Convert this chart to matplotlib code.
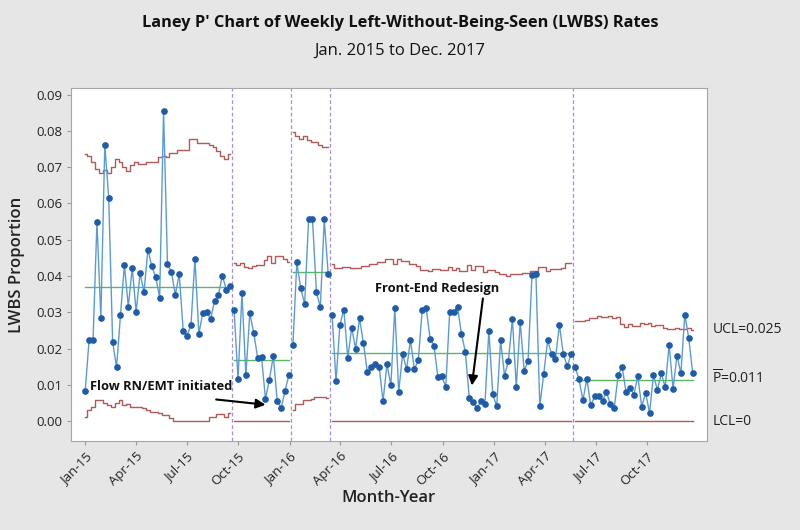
import matplotlib
matplotlib.use('Agg')
import matplotlib.pyplot as plt
import matplotlib.dates as mdates
import matplotlib.transforms as mtransforms
import pandas as pd

plt.rcParams['font.family'] = ['Open Sans', 'DejaVu Sans']
plt.rcParams['mathtext.fontset'] = 'custom'
plt.rcParams['mathtext.rm'] = 'Open Sans'

# weekly LWBS proportion, split by phase
phase1 = [0.0083, 0.0225, 0.0223, 0.0549, 0.0284, 0.0761, 0.0616, 0.0219, 0.0149, 0.0292,
          0.0430, 0.0316, 0.0423, 0.0301, 0.0408, 0.0356, 0.0473, 0.0427, 0.0397, 0.0341,
          0.0855, 0.0432, 0.0411, 0.0349, 0.0406, 0.0250, 0.0236, 0.0266, 0.0448, 0.0241,
          0.0298, 0.0302, 0.0282, 0.0331, 0.0349, 0.0401, 0.0363, 0.0372]
phase2 = [0.0306, 0.0116, 0.0353, 0.0127, 0.0298, 0.0244, 0.0175, 0.0176, 0.0062, 0.0115,
          0.0180, 0.0055, 0.0037, 0.0084, 0.0129]
phase3 = [0.0209, 0.0438, 0.0366, 0.0323, 0.0556, 0.0556, 0.0355, 0.0315, 0.0556, 0.0406]
phase4 = [0.0294, 0.0111, 0.0266, 0.0308, 0.0175, 0.0257, 0.0200, 0.0284, 0.0215, 0.0136,
          0.0149, 0.0157, 0.0151, 0.0055, 0.0157, 0.0099, 0.0311, 0.0082, 0.0186, 0.0143,
          0.0224, 0.0143, 0.0169, 0.0308, 0.0313, 0.0228, 0.0208, 0.0122, 0.0125, 0.0094,
          0.0300, 0.0300, 0.0316, 0.0241, 0.0192, 0.0065, 0.0054, 0.0037, 0.0056, 0.0047,
          0.0250, 0.0074, 0.0042, 0.0223, 0.0126, 0.0167, 0.0283, 0.0094, 0.0274, 0.0140,
          0.0166, 0.0402, 0.0407, 0.0043, 0.0130, 0.0223, 0.0185, 0.0173, 0.0266, 0.0185,
          0.0152, 0.0185]
phase5 = [0.0150, 0.0116, 0.0058, 0.0117, 0.0044, 0.0069, 0.0069, 0.0056, 0.0081, 0.0047,
          0.0038, 0.0127, 0.0151, 0.0080, 0.0093, 0.0073, 0.0125, 0.0040, 0.0079, 0.0023,
          0.0127, 0.0087, 0.0132, 0.0094, 0.0211, 0.0089, 0.0181, 0.0132, 0.0294, 0.0230,
          0.0134]

centers = [0.0371, 0.0169, 0.0411, 0.0189, 0.0114]

ucl1 = [0.0736, 0.0730, 0.0713, 0.0695, 0.0683, 0.0693, 0.0683, 0.0700, 0.0722, 0.0713,
        0.0700, 0.0690, 0.0705, 0.0713, 0.0710, 0.0708, 0.0713, 0.0713, 0.0713, 0.0727,
        0.0731, 0.0727, 0.0739, 0.0739, 0.0748, 0.0748, 0.0748, 0.0778, 0.0778, 0.0767,
        0.0767, 0.0767, 0.0760, 0.0755, 0.0745, 0.0730, 0.0722, 0.0736]
ucl2 = [0.0437, 0.0431, 0.0435, 0.0426, 0.0421, 0.0428, 0.0431, 0.0431, 0.0444, 0.0455,
        0.0435, 0.0455, 0.0455, 0.0447, 0.0440]
ucl3 = [0.0798, 0.0787, 0.0778, 0.0785, 0.0775, 0.0768, 0.0770, 0.0760, 0.0756, 0.0756]
ucl4 = [0.0432, 0.0421, 0.0421, 0.0424, 0.0424, 0.0423, 0.0423, 0.0423, 0.0428, 0.0428,
        0.0432, 0.0432, 0.0440, 0.0440, 0.0447, 0.0447, 0.0434, 0.0448, 0.0441, 0.0441,
        0.0434, 0.0434, 0.0427, 0.0418, 0.0418, 0.0415, 0.0420, 0.0420, 0.0418, 0.0418,
        0.0424, 0.0418, 0.0421, 0.0415, 0.0415, 0.0431, 0.0418, 0.0429, 0.0429, 0.0410,
        0.0418, 0.0418, 0.0411, 0.0406, 0.0406, 0.0400, 0.0406, 0.0406, 0.0406, 0.0409,
        0.0409, 0.0415, 0.0415, 0.0424, 0.0424, 0.0414, 0.0420, 0.0420, 0.0420, 0.0421,
        0.0437, 0.0437]
ucl5 = [0.0275, 0.0275, 0.0277, 0.0279, 0.0284, 0.0284, 0.0291, 0.0288, 0.0286, 0.0291,
        0.0284, 0.0286, 0.0267, 0.0261, 0.0267, 0.0263, 0.0263, 0.0272, 0.0267, 0.0272,
        0.0263, 0.0264, 0.0264, 0.0258, 0.0254, 0.0254, 0.0258, 0.0254, 0.0254, 0.0256,
        0.0252]

lcl1 = [0.0011, 0.0031, 0.0040, 0.0059, 0.0059, 0.0050, 0.0045, 0.0040, 0.0050, 0.0059,
        0.0045, 0.0047, 0.0040, 0.0040, 0.0040, 0.0036, 0.0031, 0.0025, 0.0025, 0.0022,
        0.0018, 0.0018, 0.0008, 0, 0, 0, 0, 0, 0, 0,
        0, 0, 0.0013, 0.0013, 0.0019, 0.0019, 0.0013, 0.0022]
lcl3 = [0.0031, 0.0047, 0.0047, 0.0059, 0.0059, 0.0062, 0.0066, 0.0066, 0.0066, 0.0063]

phases = [phase1, phase2, phase3, phase4, phase5]
ucls = [ucl1, ucl2, ucl3, ucl4, ucl5]
lcls = [lcl1, [0] * len(phase2), lcl3, [0] * len(phase4), [0] * len(phase5)]

start = pd.Timestamp('2015-01-01')
n_weeks = sum(len(p) for p in phases)
weeks = pd.date_range(start, periods=n_weeks, freq='7D')

fig = plt.figure(figsize=(8, 5.3), dpi=100, facecolor='#e6e6e6')
ax = fig.add_axes([0.089, 0.168, 0.795, 0.666])
ax.set_facecolor('white')

blue_line = '#5b9bd5'
blue_dot = '#1f5ca8'
red = '#b05a5a'
green = '#5cb85c'
purple = '#a58fd8'

i0 = 0
for k, vals in enumerate(phases):
    d = weeks[i0:i0 + len(vals)]
    ax.plot(d, ucls[k], drawstyle='steps-mid', color=red, lw=1.0)
    ax.plot(d, lcls[k], drawstyle='steps-mid', color=red, lw=1.0)
    ax.plot([d[0], d[-1]], [centers[k], centers[k]], color=green, lw=1.0)
    ax.plot(d, vals, color=blue_line, lw=1.0, marker='o', markersize=3.8,
            markerfacecolor=blue_dot, markeredgecolor=blue_dot, zorder=3)
    i0 += len(vals)
    if k < len(phases) - 1:
        xb = weeks[i0 - 1] + (weeks[i0] - weeks[i0 - 1]) / 2
        ax.axvline(xb, color=purple, lw=0.9, ls=(0, (3, 2)))

# limits for the last phase
tr = mtransforms.blended_transform_factory(ax.transAxes, ax.transData)
lab = dict(transform=tr, fontsize=10, color='#222222', va='center', ha='left')
ax.text(1.008, ucl5[-1], 'UCL=0.025', **lab)
ax.text(1.008, centers[-1] + 0.0003, r'$\overline{\mathrm{P}}$=0.011', **lab)
ax.text(1.008, 0, 'LCL=0', **lab)

# annotations
day = pd.Timedelta(days=1)
ax.text(start + 9 * day, 0.0097, 'Flow RN/EMT initiated', fontsize=9.3,
        fontweight='bold', ha='left', va='center', color='#111111', zorder=5)
ax.annotate('', xy=(start + 327 * day, 0.0045), xytext=(start + 229 * day, 0.0061),
            arrowprops=dict(arrowstyle='-|>', color='black', lw=1.5, mutation_scale=14))
ax.text(start + 628 * day, 0.0366, 'Front-End Redesign', fontsize=9.3,
        fontweight='bold', ha='center', va='center', color='#111111')
ax.annotate('', xy=(start + 690 * day, 0.0091), xytext=(start + 711 * day, 0.0346),
            arrowprops=dict(arrowstyle='-|>', color='black', lw=1.5, mutation_scale=14))

ax.set_xlim(start - 25 * day, start + 1111 * day)
ax.set_ylim(-0.0054, 0.0918)
ax.set_yticks([i / 100 for i in range(10)])
ax.yaxis.set_major_formatter(plt.FormatStrFormatter('%.2f'))
ax.set_xticks(pd.date_range('2015-01-01', '2017-10-01', freq='QS'))
ax.xaxis.set_major_formatter(mdates.DateFormatter('%b-%y'))
for t in ax.get_xticklabels():
    t.set_rotation(45)
    t.set_ha('right')
    t.set_rotation_mode('anchor')
ax.tick_params(labelsize=9.5, colors='#222222', length=3, color='#999999')
for s in ax.spines.values():
    s.set_color('#a6a6a6')

ax.set_ylabel('LWBS Proportion', fontsize=12, fontweight='semibold', color='#222222', labelpad=8)
fig.text(0.486, 0.06, 'Month-Year', fontsize=12, fontweight='semibold', color='#222222',
         ha='center', va='center')

fig.text(0.5, 0.957, "Laney P' Chart of Weekly Left-Without-Being-Seen (LWBS) Rates",
         fontsize=11.8, fontweight='bold', ha='center', va='center', color='#111111')
fig.text(0.5, 0.905, 'Jan. 2015 to Dec. 2017', fontsize=12, ha='center', va='center',
         color='#111111')

fig.savefig('out.png', dpi=100, facecolor=fig.get_facecolor())
